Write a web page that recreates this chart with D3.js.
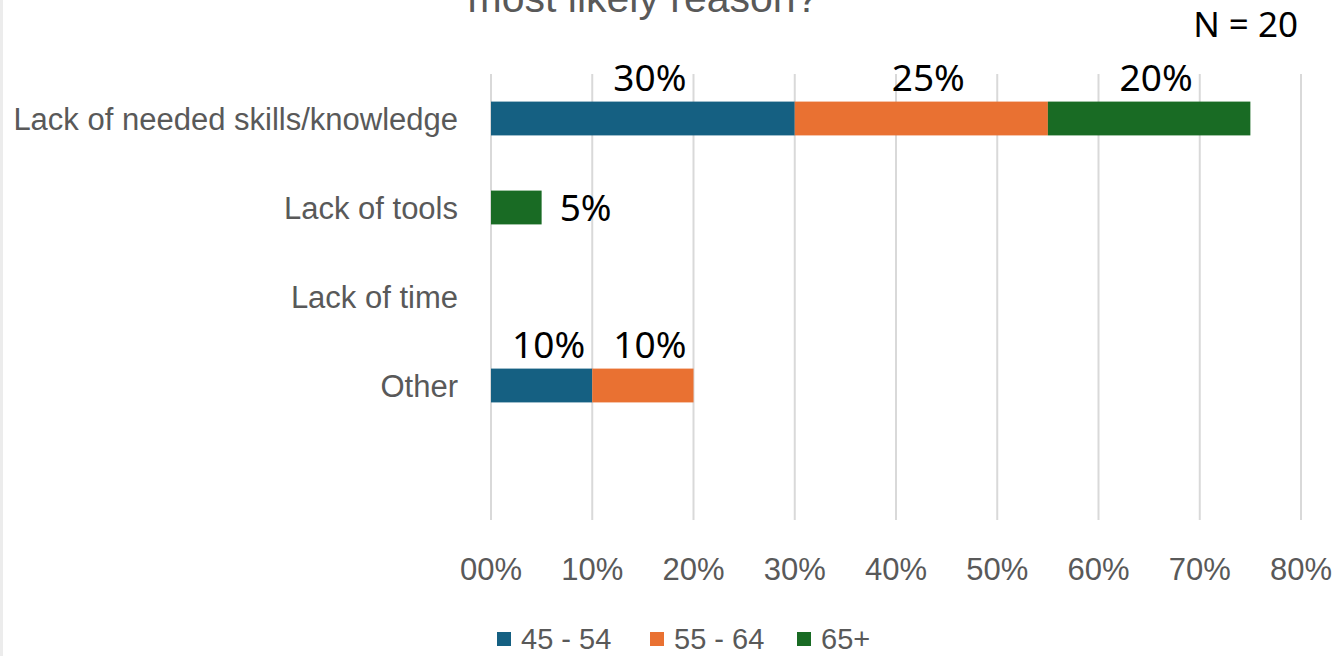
<!DOCTYPE html>
<html>
<head>
<meta charset="utf-8">
<script src="https://cdn.jsdelivr.net/npm/d3@7"></script>
<style>
  html, body { margin: 0; padding: 0; background: #fff; }
  svg { display: block; }
</style>
</head>
<body>
<div id="chart"></div>
<script>
var categories = ["Lack of needed skills/knowledge", "Lack of tools", "Lack of time", "Other"];
var seriesNames = ["45 - 54", "55 - 64", "65+"];
var colors = ["#156082", "#E97132", "#196B24"];
// percent per age group, one array per series (0 = no bar)
var s4554 = [30, 0, 0, 10];
var s5564 = [25, 0, 0, 10];
var s65 = [20, 5, 0, 0];
var xTicks = [0, 10, 20, 30, 40, 50, 60, 70, 80];

var width = 1338, height = 656;
var svg = d3.select("#chart").append("svg")
  .attr("width", width)
  .attr("height", height);

// thin grey strip at the left edge
svg.append("rect").attr("x", 0).attr("y", 0).attr("width", 3).attr("height", height).attr("fill", "#ececec");

var x = d3.scaleLinear().domain([0, 80]).range([491, 1301]);
var y = d3.scaleBand().domain(categories).range([74, 74 + 89 * 4]).paddingInner(0.62).paddingOuter(0.31);

// gridlines
svg.append("g").selectAll("line")
  .data(xTicks).enter()
  .append("line")
  .attr("x1", function(d) { return x(d); })
  .attr("x2", function(d) { return x(d); })
  .attr("y1", 74)
  .attr("y2", 520)
  .attr("stroke", "#d9d9d9")
  .attr("stroke-width", 2);

// title (second line only, cut off at the top like the original)
svg.append("text")
  .attr("x", 643)
  .attr("y", 12)
  .attr("text-anchor", "middle")
  .attr("font-family", "Liberation Sans, Arial, sans-serif")
  .attr("font-size", 41)
  .attr("fill", "#595959")
  .text("most likely reason?");

svg.append("text")
  .attr("x", 1298)
  .attr("y", 37)
  .attr("text-anchor", "end")
  .attr("font-family", "Noto Sans, sans-serif")
  .attr("font-size", 35)
  .attr("fill", "#000")
  .text("N = 20");

// stack
var rows = categories.map(function(c, i) {
  return { cat: c, a: s4554[i], b: s5564[i], c: s65[i] };
});
var stack = d3.stack().keys(["a", "b", "c"]);
var layers = stack(rows);

var g = svg.append("g");
layers.forEach(function(layer, li) {
  layer.forEach(function(seg) {
    var v = seg[1] - seg[0];
    if (v <= 0) return;
    g.append("rect")
      .attr("x", x(seg[0]))
      .attr("y", y(seg.data.cat))
      .attr("width", x(seg[1]) - x(seg[0]))
      .attr("height", y.bandwidth())
      .attr("fill", colors[li]);
  });
});

// data labels
layers.forEach(function(layer, li) {
  layer.forEach(function(seg) {
    var v = seg[1] - seg[0];
    if (v <= 0) return;
    var lx, ly, anchor;
    if (v < 8) {
      // small segment: label at the right of the bar
      lx = x(seg[1]) + 18;
      ly = y(seg.data.cat) + y.bandwidth() / 2 + 13;
      anchor = "start";
    } else {
      lx = (x(seg[0]) + x(seg[1])) / 2 + 7;
      ly = y(seg.data.cat) - 11;
      anchor = "middle";
    }
    g.append("text")
      .attr("x", lx)
      .attr("y", ly)
      .attr("text-anchor", anchor)
      .attr("font-family", "Noto Sans, sans-serif")
      .attr("font-size", 37)
      .attr("fill", "#000")
      .text(v + "%");
  });
});

// category labels
svg.append("g").selectAll("text")
  .data(categories).enter()
  .append("text")
  .attr("x", 458)
  .attr("y", function(d) { return y(d) + y.bandwidth() / 2 + 11; })
  .attr("text-anchor", "end")
  .attr("font-family", "Liberation Sans, Arial, sans-serif")
  .attr("font-size", 31)
  .attr("fill", "#595959")
  .text(function(d) { return d; });

// x tick labels
svg.append("g").selectAll("text")
  .data(xTicks).enter()
  .append("text")
  .attr("x", function(d) { return x(d); })
  .attr("y", 580)
  .attr("text-anchor", "middle")
  .attr("font-family", "Liberation Sans Narrow, Liberation Sans, Arial, sans-serif")
  .attr("font-size", 31)
  .attr("fill", "#595959")
  .text(function(d) { return (d < 10 ? "0" : "") + d + "%"; });

// legend
var legendX = [497, 650, 797];
var lg = svg.append("g");
seriesNames.forEach(function(name, i) {
  lg.append("rect")
    .attr("x", legendX[i])
    .attr("y", 632)
    .attr("width", 14)
    .attr("height", 14)
    .attr("fill", colors[i]);
  lg.append("text")
    .attr("x", legendX[i] + 24)
    .attr("y", 649)
    .attr("font-family", "Liberation Sans, Arial, sans-serif")
    .attr("font-size", 29)
    .attr("fill", "#595959")
    .text(name);
});
</script>
</body>
</html>
